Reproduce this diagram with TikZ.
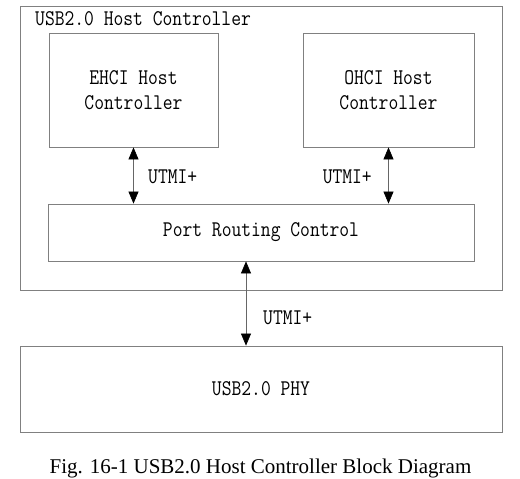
\documentclass[tikz,border=0pt]{standalone}
\usepackage{fontspec}
\setmainfont{Liberation Serif}
\setmonofont[FakeStretch=0.85]{Latin Modern Mono}
\usetikzlibrary{arrows.meta}
\tikzset{
  blk/.style={draw=gray, line width=0.8pt, inner sep=0pt, align=center,
    font=\ttfamily\fontsize{22.4}{25}\selectfont},
  lbl/.style={inner sep=0pt, font=\ttfamily\fontsize{22.4}{25}\selectfont},
  link/.style={draw=gray!80!black, line width=0.6pt,
    {Triangle[length=12pt,width=10pt,color=black]}-{Triangle[length=12pt,width=10pt,color=black]}}
}
\begin{document}
\begin{tikzpicture}[x=1pt,y=-1pt]
\useasboundingbox (0,0) rectangle (520,479);
\node[blk, minimum width=482, minimum height=284] (host) at (261,148) {};
\node[lbl, anchor=west] (title) at (35,19) {USB2.0 Host Controller};
\node[blk, minimum width=169, minimum height=114] (ehci) at (133.5,90) {EHCI Host\\Controller};
\node[blk, minimum width=171, minimum height=114] (ohci) at (388.5,90) {OHCI Host\\Controller};
\node[blk, minimum width=426, minimum height=57] (prc) at (261,232.5) {Port Routing Control};
\node[blk, minimum width=482, minimum height=86] (phy) at (261,389) {USB2.0 PHY};
\coordinate (mid) at (246,300);
\draw[link] (ehci.south) -- (ehci.south |- prc.north);
\draw[link] (ohci.south) -- (ohci.south |- prc.north);
\draw[link] (prc.south -| mid) -- (phy.north -| mid);
\node[lbl, anchor=west] (u1) at (148,177) {UTMI+};
\node[lbl, anchor=east] (u2) at (372,177) {UTMI+};
\node[lbl, anchor=west] (u3) at (263,318) {UTMI+};
\node[anchor=base, inner sep=0pt, font=\fontsize{21}{24}\selectfont] (cap) at (260.5,473)
  {Fig. 16-1 USB2.0 Host Controller Block Diagram};
\end{tikzpicture}
\end{document}
